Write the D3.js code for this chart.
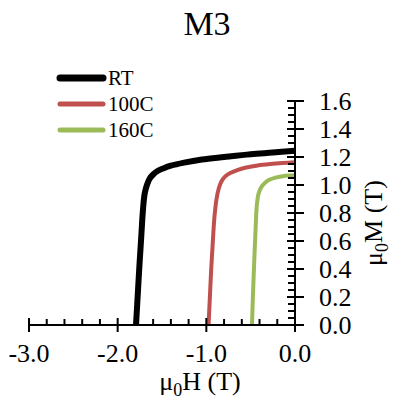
<!DOCTYPE html>
<html><head><meta charset="utf-8">
<script src="https://cdn.jsdelivr.net/npm/d3@7"></script>
<style>body{margin:0;background:#fff}svg{display:block}text{font-family:"Liberation Serif","Times New Roman",serif;fill:#000}</style>
</head><body><div id="c"></div>
<script>
const seriesNames = ["RT", "100C", "160C"];
const seriesColors = ["#000000", "#c0504d", "#9bbb59"];
const seriesWidths = [6, 4, 4];
const rtH = [-1.793, -1.775, -1.755, -1.735, -1.715, -1.695, -1.67, -1.64, -1.60, -1.55, -1.48, -1.40, -1.25, -1.05, -0.80, -0.50, -0.25, 0.0];
const rtM = [0.00, 0.20, 0.42, 0.62, 0.82, 0.94, 1.00, 1.045, 1.075, 1.10, 1.12, 1.138, 1.16, 1.182, 1.20, 1.22, 1.232, 1.245];
const c100H = [-0.975, -0.96, -0.945, -0.93, -0.91, -0.885, -0.86, -0.83, -0.79, -0.73, -0.65, -0.55, -0.42, -0.28, -0.14, 0.0];
const c100M = [0.00, 0.20, 0.40, 0.56, 0.76, 0.90, 0.975, 1.025, 1.06, 1.085, 1.107, 1.125, 1.14, 1.15, 1.157, 1.162];
const c160H = [-0.485, -0.475, -0.46, -0.445, -0.43, -0.41, -0.38, -0.34, -0.29, -0.22, -0.14, -0.07, 0.0];
const c160M = [0.00, 0.20, 0.45, 0.68, 0.86, 0.94, 0.985, 1.015, 1.037, 1.053, 1.063, 1.068, 1.07];
const xTicks = [-3.0, -2.0, -1.0, 0.0];
const yTicks = [0.0, 0.2, 0.4, 0.6, 0.8, 1.0, 1.2, 1.4, 1.6];
const title = "M3";

const W = 393, H = 400;
const svg = d3.select("#c").append("svg").attr("width", W).attr("height", H);
const x = d3.scaleLinear().domain([-3, 0]).range([29, 295]);
const y = d3.scaleLinear().domain([0, 1.6]).range([325, 101]);

svg.append("text").attr("x", 207).attr("y", 35).attr("text-anchor", "middle").style("font-size", "34px").text(title);

const data = [d3.zip(rtH, rtM), d3.zip(c100H, c100M), d3.zip(c160H, c160M)];
const line = d3.line().x(d => x(d[0])).y(d => y(d[1])).curve(d3.curveCatmullRom.alpha(0.5));
data.forEach((s, i) => {
  svg.append("path").attr("d", line(s)).attr("fill", "none")
    .attr("stroke", seriesColors[i]).attr("stroke-width", seriesWidths[i]);
});

// X axis
const gx = svg.append("g").attr("stroke", "#000").attr("stroke-width", 2);
gx.append("line").attr("x1", x(-3)).attr("x2", x(0)).attr("y1", y(0)).attr("y2", y(0));
d3.range(-3, 0.001, 0.2).forEach(v => {
  const major = Math.abs(v - Math.round(v)) < 1e-6;
  gx.append("line").attr("x1", x(v)).attr("x2", x(v))
    .attr("y1", y(0) - (major ? 7 : 6)).attr("y2", y(0) + (major ? 7 : 0));
});
xTicks.forEach(v => {
  svg.append("text").attr("x", x(v)).attr("y", 362).attr("text-anchor", "middle")
    .style("font-size", "26px").text(d3.format(".1f")(v).replace("−", "-"));
});
// Y axis
const gy = svg.append("g").attr("stroke", "#000").attr("stroke-width", 2);
gy.append("line").attr("x1", x(0)).attr("x2", x(0)).attr("y1", y(0)).attr("y2", y(1.6));
d3.range(0, 1.6001, 0.05).forEach(v => {
  const major = Math.abs(v * 5 - Math.round(v * 5)) < 1e-6;
  gy.append("line").attr("y1", y(v)).attr("y2", y(v))
    .attr("x1", x(0) - (major ? 8 : 7)).attr("x2", x(0) + (major ? 9 : 0));
});
yTicks.forEach(v => {
  svg.append("text").attr("x", 319).attr("y", y(v) + 9).attr("text-anchor", "start")
    .style("font-size", "26px").text(d3.format(".1f")(v));
});

// axis labels
const xl = svg.append("text").attr("x", 200).attr("y", 390).attr("text-anchor", "middle").style("font-size", "26px");
xl.append("tspan").text("μ");
xl.append("tspan").attr("dy", 6).style("font-size", "18px").text("0");
xl.append("tspan").attr("dy", -6).text("H (T)");
const yl = svg.append("text").attr("transform", "translate(382,223) rotate(-90)").attr("text-anchor", "middle").style("font-size", "26px");
yl.append("tspan").text("μ");
yl.append("tspan").attr("dy", 6).style("font-size", "18px").text("0");
yl.append("tspan").attr("dy", -6).text("M (T)");

// legend
const ly = [78, 104, 130];
seriesNames.forEach((n, i) => {
  svg.append("line").attr("x1", 60).attr("x2", 103).attr("y1", ly[i]).attr("y2", ly[i])
    .attr("stroke", seriesColors[i]).attr("stroke-width", i === 0 ? 7 : 5).attr("stroke-linecap", "round");
  svg.append("text").attr("x", 108).attr("y", ly[i] + 7).style("font-size", "21px").text(n);
});
</script></body></html>
